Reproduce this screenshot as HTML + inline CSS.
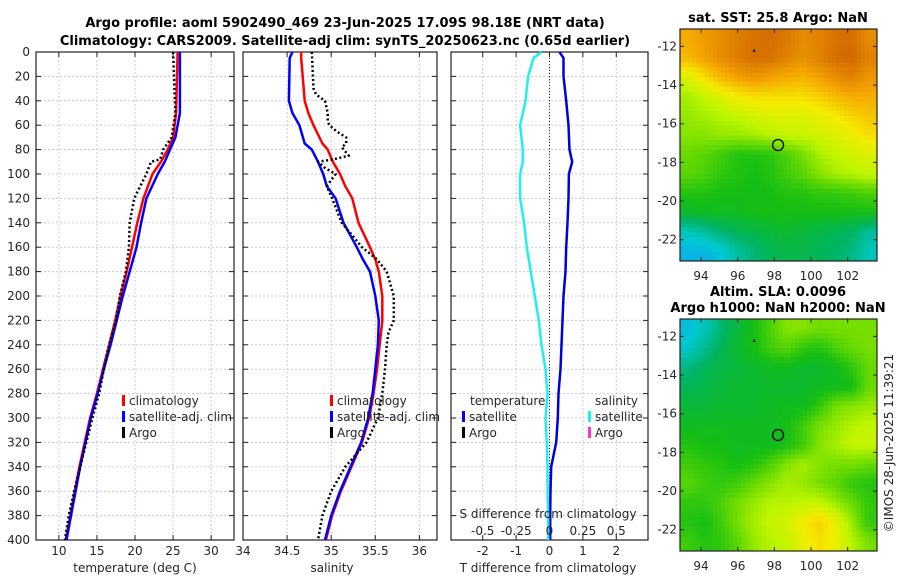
<!DOCTYPE html>
<html><head><meta charset="utf-8"><style>
body{margin:0;background:#fff;}
svg{display:block;font-family:"DejaVu Sans","Liberation Sans",sans-serif;}
.t{font-size:12px;fill:#262626}
.b{font-weight:bold;font-size:13px;fill:#000}
</style></head><body>
<svg id="c" width="900" height="580" viewBox="0 0 900 580"></svg>
<script>
// ---- data ----
const tClimDepth=[0,50,70,80,90,100,120,140,160,180,200,220,240,260,280,300,320,340,360,380,400];
const tClim=[25.6,25.4,25.0,24.3,23.4,22.3,21.1,20.3,19.6,18.9,18.1,17.4,16.6,15.8,15.0,14.1,13.4,12.7,12.1,11.5,10.9];
const tSat=[25.9,25.9,25.3,24.6,23.9,23.0,21.5,20.8,20.2,19.3,18.4,17.6,16.8,15.9,15.1,14.2,13.5,12.8,12.2,11.6,11.0];
const tArgoDepth=[0,50,70,80,88,90,100,120,140,160,180,200,220,240,260,280,300,320,340,360,380,400];
const tArgo=[25.0,25.3,24.8,23.7,23.3,22.1,21.5,19.9,19.3,19.2,18.8,18.0,17.5,16.6,15.9,15.3,14.4,13.6,12.8,12.0,11.3,10.8];
const sDepth=[0,5,40,50,60,75,80,90,100,110,120,140,160,170,180,200,220,240,260,280,300,320,340,360,380,400];
const sSat=[34.56,34.53,34.52,34.56,34.64,34.70,34.78,34.85,34.91,34.95,35.05,35.14,35.29,35.36,35.44,35.50,35.54,35.53,35.50,35.47,35.42,35.34,35.22,35.10,35.00,34.93];
const sClim=[34.66,34.66,34.70,34.74,34.80,34.90,34.96,35.02,35.10,35.16,35.24,35.31,35.44,35.50,35.54,35.58,35.58,35.55,35.52,35.48,35.43,35.35,35.23,35.11,35.01,34.94];
const sArgoDepth=[0,30,35,40,50,57,60,65,70,75,78,85,88,90,95,100,110,120,140,160,170,180,200,220,230,240,260,280,300,320,340,360,380,400];
const sArgo=[34.78,34.80,34.83,34.93,34.96,34.96,34.98,35.06,35.17,35.17,35.12,35.20,35.02,34.85,34.93,35.05,34.95,35.01,35.12,35.35,35.52,35.63,35.71,35.71,35.65,35.63,35.61,35.58,35.53,35.40,35.16,35.00,34.90,34.85];
const dDepth=[0,5,20,40,60,80,90,100,120,140,160,180,200,220,240,260,280,300,320,340,360,380,400];
const dTsat=[0.30,0.42,0.42,0.50,0.57,0.60,0.68,0.58,0.57,0.54,0.50,0.48,0.42,0.39,0.36,0.33,0.27,0.25,0.20,0.05,0.03,0.02,0.02];
const dSsat=[-0.06,-0.12,-0.16,-0.18,-0.22,-0.20,-0.20,-0.22,-0.22,-0.19,-0.17,-0.14,-0.11,-0.08,-0.06,-0.03,-0.015,-0.03,-0.02,-0.015,-0.015,-0.01,-0.01];
const depthTicks=[0,20,40,60,80,100,120,140,160,180,200,220,240,260,280,300,320,340,360,380,400];
const tTicks=[10,15,20,25,30];
const sTicks=[34,34.5,35,35.5,36];
const dTTicks=[-2,-1,0,1,2];
const dSTicks=[-0.5,-0.25,0,0.25,0.5];
const lonTicks=[94,96,98,100,102];
const latTicks=[-12,-14,-16,-18,-20,-22];
const sstGrid=[
[.84,.87,.90,.93,.95,.96,.94,.90,.92,.95,.96,.90],
[.82,.86,.90,.93,.96,.95,.92,.89,.92,.96,.97,.92],
[.70,.76,.82,.86,.88,.86,.84,.83,.86,.90,.92,.88],
[.62,.66,.70,.74,.76,.76,.76,.76,.78,.82,.84,.84],
[.60,.62,.64,.66,.68,.70,.70,.70,.72,.74,.78,.80],
[.58,.58,.60,.60,.62,.64,.66,.66,.68,.70,.72,.76],
[.54,.52,.48,.44,.44,.45,.50,.56,.62,.66,.68,.70],
[.52,.50,.46,.44,.42,.44,.48,.52,.58,.62,.64,.66],
[.44,.44,.42,.42,.42,.42,.44,.44,.46,.46,.48,.50],
[.38,.40,.40,.40,.42,.42,.42,.42,.42,.42,.42,.42],
[.18,.22,.28,.32,.34,.36,.38,.36,.34,.32,.30,.22],
[.10,.10,.14,.22,.28,.32,.34,.34,.32,.30,.26,.18]];
const slaGrid=[
[.12,.18,.28,.36,.42,.50,.58,.58,.55,.56,.56,.56],
[.16,.24,.32,.38,.42,.48,.52,.46,.44,.50,.54,.56],
[.26,.32,.34,.36,.38,.40,.40,.38,.38,.40,.46,.54],
[.32,.34,.36,.38,.38,.38,.38,.38,.40,.40,.42,.54],
[.36,.36,.38,.38,.38,.40,.40,.40,.46,.56,.58,.60],
[.40,.40,.40,.40,.40,.40,.42,.48,.56,.60,.64,.66],
[.44,.42,.42,.40,.40,.40,.42,.48,.58,.62,.66,.66],
[.48,.46,.44,.42,.44,.50,.58,.62,.58,.56,.56,.54],
[.52,.48,.46,.48,.54,.58,.62,.60,.56,.52,.46,.44],
[.46,.46,.50,.56,.60,.64,.64,.66,.66,.60,.54,.46],
[.44,.42,.48,.56,.62,.66,.68,.74,.78,.72,.60,.46],
[.48,.44,.46,.52,.60,.64,.66,.72,.76,.72,.64,.56]];
const floatLon=98.2, floatLat=-17.1, triLon=96.9, triLat=-12.2;

// ---- helpers ----
const svg=document.getElementById('c');const NS='http://www.w3.org/2000/svg';
function mk(tag,at,parent){const e=document.createElementNS(NS,tag);for(const k in at)e.setAttribute(k,at[k]);(parent||svg).appendChild(e);return e;}
function txt(x,y,s,cls,anchor,name){const e=mk('text',{x:x,y:y,class:cls,'text-anchor':anchor||'middle'});e.textContent=s;

return e;}
const Y0=52,Y1=540;
const yD=d=>Y0+(Y1-Y0)*d/400;

function panel(name,x0,x1,xmin,xmax,vgrid){
  const g=mk('g',{});
  
  
  const xs=v=>x0+(x1-x0)*(v-xmin)/(xmax-xmin);
  mk('rect',{x:x0,y:Y0,width:x1-x0,height:Y1-Y0,fill:'#fff'},g);
  depthTicks.forEach(d=>{mk('line',{x1:x0,x2:x1,y1:yD(d),y2:yD(d),stroke:'#c8c8e6','stroke-width':1,'stroke-dasharray':'2,2'},g);
    mk('line',{x1:x0,x2:x0+5,y1:yD(d),y2:yD(d),stroke:'#222'},g);mk('line',{x1:x1-5,x2:x1,y1:yD(d),y2:yD(d),stroke:'#222'},g);});
  vgrid.forEach(v=>{mk('line',{x1:xs(v),x2:xs(v),y1:Y0,y2:Y1,stroke:'#c8c8e6','stroke-dasharray':'2,2'},g);
    mk('line',{x1:xs(v),x2:xs(v),y1:Y1-5,y2:Y1,stroke:'#222'},g);mk('line',{x1:xs(v),x2:xs(v),y1:Y0,y2:Y0+5,stroke:'#222'},g);});
  mk('rect',{x:x0,y:Y0,width:x1-x0,height:Y1-Y0,fill:'none',stroke:'#222','stroke-width':1.2},g);
  return {g,xs};
}
function line(p,vals,depths,color,w,dash,name){
  const pts=vals.map((v,i)=>p.xs(v).toFixed(1)+','+yD(depths[i]).toFixed(1)).join(' ');
  const e=mk('polyline',{points:pts,fill:'none',stroke:color,'stroke-width':w,'stroke-dasharray':dash||'none','stroke-linejoin':'round'},p.g);
  
  
}

txt(345,27,'Argo profile: aoml 5902490_469 23-Jun-2025 17.09S 98.18E (NRT data)','b','middle','title-line-1');
txt(345,45,'Climatology: CARS2009. Satellite-adj clim: synTS_20250623.nc (0.65d earlier)','b','middle','title-line-2');

depthTicks.forEach(d=>txt(30,yD(d)+4,String(d),'t','end','depth-tick-label'));

const p1=panel('temperature-panel',36,234,7,33,tTicks);
line(p1,tClim,tClimDepth,'#ff0000',2.5,null,'temp-climatology-line');
line(p1,tSat,tClimDepth,'#0000ff',2.5,null,'temp-satellite-line');
line(p1,tArgo,tArgoDepth,'#000',2.5,'2,2.5','temp-argo-line');
tTicks.forEach(v=>txt(p1.xs(v),555,String(v),'t','middle','temp-tick-label'));
txt(135,572,'temperature (deg C)','t','middle','x-axis-title-temperature');

const p2=panel('salinity-panel',243,437,34,36.2,sTicks);
line(p2,sClim,sDepth,'#ff0000',2.5,null,'sal-climatology-line');
line(p2,sSat,sDepth,'#0000ff',2.5,null,'sal-satellite-line');
line(p2,sArgo,sArgoDepth,'#000',2.5,'2,2.5','sal-argo-line');
sTicks.forEach(v=>txt(p2.xs(v),555,String(v),'t','middle','sal-tick-label'));
txt(332,572,'salinity','t','middle','x-axis-title-salinity');

const p3=panel('difference-panel',451,648,-2.95,2.95,dTTicks);
mk('line',{x1:p3.xs(0),x2:p3.xs(0),y1:Y0,y2:Y1,stroke:'#333','stroke-dasharray':'1,2'},p3.g);
line(p3,dTsat,dDepth,'#0000dd',2.5,null,'temp-diff-satellite-line');
line(p3,dSsat.map(v=>v*4),dDepth,'#22eeee',2.5,null,'sal-diff-satellite-line');
dTTicks.forEach(v=>txt(p3.xs(v),555,String(v),'t','middle','tdiff-tick-label'));
dSTicks.forEach(v=>txt(p3.xs(v*4),535,String(v),'t','middle','sdiff-tick-label'));
txt(548,518,'S difference from climatology','t','middle','s-diff-axis-title');
txt(548,572,'T difference from climatology','t','middle','t-diff-axis-title');

function legend(x,y,color,label,name){
  const r=mk('rect',{x:x,y:y-10,width:3,height:11,fill:color});
  
  
  txt(x+7,y,label,'t','start',name);
}
legend(122,405,'#ff0000','climatology','legend-climatology');
legend(122,421,'#0000ff','satellite-adj. clim','legend-satellite-adj');
legend(122,437,'#000','Argo','legend-argo');
legend(330,405,'#ff0000','climatology','legend-climatology-2');
legend(330,421,'#0000ff','satellite-adj. clim','legend-satellite-adj-2');
legend(330,437,'#000','Argo','legend-argo-2');
txt(470,405,'temperature','t','start','legend-temperature-header');
legend(462,421,'#0000ff','satellite','legend-temp-satellite');
legend(462,437,'#000','Argo','legend-temp-argo');
txt(595,405,'salinity','t','start','legend-salinity-header');
legend(588,421,'#22eeee','satellite','legend-sal-satellite');
legend(588,437,'#ff33cc','Argo','legend-sal-argo');

const cmapStops=[[0,[30,140,255]],[0.15,[0,200,210]],[0.3,[0,180,100]],[0.42,[20,190,20]],[0.55,[110,220,0]],[0.65,[190,245,0]],[0.74,[245,235,0]],[0.85,[245,165,0]],[1,[200,90,0]]];
function cmap(v){for(let i=1;i<cmapStops.length;i++){if(v<=cmapStops[i][0]){const a=cmapStops[i-1],b=cmapStops[i],t=(v-a[0])/(b[0]-a[0]);
  return 'rgb('+a[1].map((c,k)=>Math.round(c+(b[1][k]-c)*t)).join(',')+')';}}return 'rgb(200,90,0)';}
function sample(grid,fr,fc){const nr=grid.length,nc=grid[0].length;
  fr=Math.max(0,Math.min(nr-1,fr));fc=Math.max(0,Math.min(nc-1,fc));
  const r0=Math.floor(fr),c0=Math.floor(fc),r1=Math.min(nr-1,r0+1),c1=Math.min(nc-1,c0+1),tr=fr-r0,tc=fc-c0;
  return (grid[r0][c0]*(1-tc)+grid[r0][c1]*tc)*(1-tr)+(grid[r1][c0]*(1-tc)+grid[r1][c1]*tc)*tr;}
const LON0=92.85,LON1=103.6,LAT0=-11.1,LAT1=-23.1;
function map(name,x0,x1,y0,y1,grid,labelY){
  const g=mk('g',{'shape-rendering':'crispEdges'});
  
  
  const xs=v=>x0+(x1-x0)*(v-LON0)/(LON1-LON0), ys=v=>y0+(y1-y0)*(v-LAT0)/(LAT1-LAT0);
  const nr=grid.length,nc=grid[0].length,S=4,W=nc*S,H=nr*S,cw=(x1-x0)/W,ch=(y1-y0)/H;
  for(let i=0;i<H;i++)for(let j=0;j<W;j++){
    const v=sample(grid,(i+0.5)/S-0.5,(j+0.5)/S-0.5);
    const r=mk('rect',{x:(x0+j*cw).toFixed(2),y:(y0+i*ch).toFixed(2),width:(cw+0.5).toFixed(2),height:(ch+0.5).toFixed(2),fill:cmap(v)},g);
    
    }
  const g2=mk('g',{});
  mk('rect',{x:x0,y:y0,width:x1-x0,height:y1-y0,fill:'none',stroke:'#222','stroke-width':1.2},g2);
  lonTicks.forEach(v=>{mk('line',{x1:xs(v),x2:xs(v),y1:y1-4,y2:y1,stroke:'#222'},g2);mk('line',{x1:xs(v),x2:xs(v),y1:y0,y2:y0+4,stroke:'#222'},g2);txt(xs(v),labelY,String(v),'t','middle','lon-tick-label');});
  latTicks.forEach(v=>{mk('line',{x1:x0,x2:x0+4,y1:ys(v),y2:ys(v),stroke:'#222'},g2);mk('line',{x1:x1-4,x2:x1,y1:ys(v),y2:ys(v),stroke:'#222'},g2);txt(x0-3,ys(v)+4,String(v),'t','end','lat-tick-label');});
  const c=mk('circle',{cx:xs(floatLon),cy:ys(floatLat),r:5.5,fill:'none',stroke:'#000','stroke-width':1.3},g2);
  
  
  const t=mk('path',{d:`M${xs(triLon)-1.5},${ys(triLat)+1.5}h3l-1.5,-3z`,fill:'#000'},g2);
  
  
}
map('sst-map',680,877,29,261,sstGrid,280);
map('sla-map',680,877,319,551,slaGrid,570);
txt(778,22,'sat. SST: 25.8 Argo: NaN','b','middle','sst-map-title');
txt(778,296,'Altim. SLA: 0.0096','b','middle','sla-map-title');
txt(778,312,'Argo h1000: NaN h2000: NaN','b','middle','sla-map-subtitle');
const im=txt(0,0,'©IMOS 28-Jun-2025 11:39:21','t','middle','imos-timestamp');
im.setAttribute('transform','translate(893,443) rotate(-90)');
</script>
</body></html>
